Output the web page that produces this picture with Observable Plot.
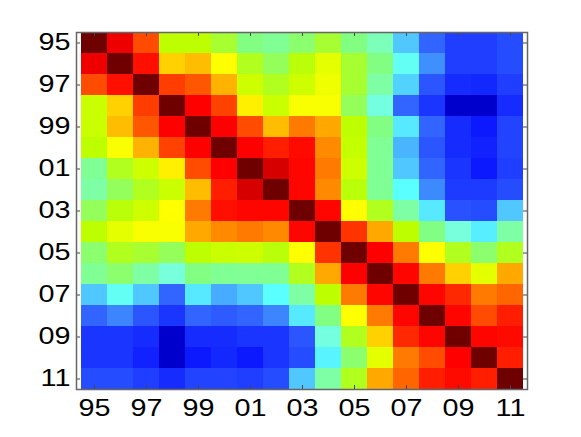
<!DOCTYPE html>
<html><head><meta charset="utf-8">
<script src="https://cdn.jsdelivr.net/npm/d3@7"></script>
<script src="https://cdn.jsdelivr.net/npm/@observablehq/plot@0.6"></script>
<style>body{margin:0;background:#fff}</style>
</head><body><div id="chart"></div>
<script>
const years = ["95","96","97","98","99","00","01","02","03","04","05","06","07","08","09","10","11"];
const tickYears = ["95","97","99","01","03","05","07","09","11"];

const r95 = [1.00, 0.89, 0.80, 0.565, 0.565, 0.54, 0.50, 0.49, 0.51, 0.54, 0.50, 0.47, 0.33, 0.225, 0.185, 0.185, 0.20];
const r96 = [0.89, 1.00, 0.86, 0.67, 0.69, 0.625, 0.55, 0.52, 0.56, 0.60, 0.54, 0.50, 0.40, 0.27, 0.185, 0.185, 0.20];
const r97 = [0.80, 0.86, 1.00, 0.815, 0.79, 0.70, 0.58, 0.55, 0.58, 0.61, 0.54, 0.48, 0.34, 0.21, 0.165, 0.16, 0.185];
const r98 = [0.575, 0.67, 0.815, 1.00, 0.875, 0.81, 0.64, 0.575, 0.62, 0.62, 0.52, 0.44, 0.225, 0.175, 0.075, 0.075, 0.165];
const r99 = [0.575, 0.69, 0.79, 0.875, 1.00, 0.875, 0.80, 0.69, 0.755, 0.71, 0.565, 0.50, 0.36, 0.225, 0.165, 0.145, 0.19];
const r00 = [0.565, 0.62, 0.70, 0.81, 0.875, 1.00, 0.875, 0.845, 0.865, 0.74, 0.57, 0.49, 0.31, 0.21, 0.165, 0.155, 0.19];
const r01 = [0.49, 0.55, 0.58, 0.64, 0.80, 0.875, 1.00, 0.91, 0.87, 0.755, 0.58, 0.49, 0.33, 0.225, 0.175, 0.145, 0.185];
const r02 = [0.48, 0.52, 0.55, 0.575, 0.69, 0.845, 0.91, 1.00, 0.87, 0.74, 0.56, 0.49, 0.38, 0.265, 0.18, 0.18, 0.20];
const r03 = [0.52, 0.56, 0.58, 0.625, 0.755, 0.86, 0.87, 0.87, 1.00, 0.87, 0.625, 0.55, 0.48, 0.36, 0.205, 0.20, 0.33];
const r04 = [0.565, 0.60, 0.62, 0.62, 0.71, 0.74, 0.755, 0.74, 0.87, 1.00, 0.825, 0.71, 0.565, 0.50, 0.45, 0.365, 0.48];
const r05 = [0.51, 0.55, 0.54, 0.52, 0.565, 0.575, 0.58, 0.56, 0.625, 0.825, 1.00, 0.875, 0.755, 0.625, 0.55, 0.51, 0.55];
const r06 = [0.49, 0.51, 0.48, 0.45, 0.50, 0.49, 0.49, 0.49, 0.55, 0.71, 0.875, 1.00, 0.87, 0.755, 0.67, 0.60, 0.71];
const r07 = [0.33, 0.40, 0.33, 0.225, 0.36, 0.30, 0.33, 0.38, 0.48, 0.565, 0.755, 0.87, 1.00, 0.87, 0.835, 0.755, 0.775];
const r08 = [0.225, 0.26, 0.21, 0.175, 0.225, 0.215, 0.225, 0.26, 0.36, 0.50, 0.625, 0.755, 0.87, 1.00, 0.87, 0.80, 0.845];
const r09 = [0.175, 0.175, 0.165, 0.075, 0.165, 0.165, 0.175, 0.175, 0.21, 0.44, 0.55, 0.67, 0.835, 0.87, 1.00, 0.87, 0.865];
const r10 = [0.175, 0.175, 0.155, 0.075, 0.145, 0.16, 0.145, 0.175, 0.20, 0.37, 0.51, 0.60, 0.755, 0.80, 0.875, 1.00, 0.845];
const r11 = [0.20, 0.20, 0.185, 0.165, 0.19, 0.19, 0.185, 0.20, 0.33, 0.48, 0.55, 0.71, 0.775, 0.845, 0.865, 0.845, 1.00];
const matrix = [r95, r96, r97, r98, r99, r00, r01, r02, r03, r04, r05, r06, r07, r08, r09, r10, r11];

// jet-like colormap as rendered in the reference
const cmapStops = [0, 0.075, 0.14, 0.225, 0.33, 0.38, 0.45, 0.5, 0.565, 0.625, 0.875, 1];
const cmapColors = ["rgb(0,0,140)", "rgb(0,0,205)", "rgb(10,20,255)", "rgb(50,100,255)", "rgb(80,200,255)",
  "rgb(90,255,255)", "rgb(120,255,220)", "rgb(130,255,130)", "rgb(190,255,0)", "rgb(255,255,0)",
  "rgb(255,0,0)", "rgb(110,0,0)"];

const cells = [];
years.forEach((ry, i) => years.forEach((cx, j) => cells.push({x: cx, y: ry, v: matrix[i][j]})));

const W = 581, H = 437, ML = 76, MR = 54, MT = 32, MB = 48;
const PW = W - ML - MR, PH = H - MT - MB;
const tickLen = 4, tickColor = "#444";
const font = "'Liberation Sans', Arial, sans-serif";
const glyphStretch = 1.25;

const chart = Plot.plot({
  width: W, height: H,
  marginLeft: ML, marginRight: MR, marginTop: MT, marginBottom: MB,
  style: {fontFamily: font, background: "#fff", overflow: "visible"},
  x: {domain: years, padding: 0, axis: null},
  y: {domain: years, padding: 0, axis: null},
  color: {type: "linear", domain: cmapStops, range: cmapColors, interpolate: "rgb"},
  marks: [
    Plot.cell(cells, {x: "x", y: "y", fill: "v"}),
    Plot.axisX({ticks: tickYears, anchor: "bottom", tickSize: 0, tickPadding: 10, label: null, fontSize: 23, fontFamily: font, fill: "#000"}),
    Plot.axisY({ticks: tickYears, anchor: "left", tickSize: 0, tickPadding: 6, label: null, fontSize: 23, fontFamily: font, fill: "#000"}),
    Plot.tickX(tickYears, {x: d => d, insetTop: PH - tickLen, stroke: tickColor}),
    Plot.tickX(tickYears, {x: d => d, insetBottom: PH - tickLen, stroke: tickColor}),
    Plot.tickY(tickYears, {y: d => d, insetRight: PW - tickLen, stroke: tickColor}),
    Plot.tickY(tickYears, {y: d => d, insetLeft: PW - tickLen, stroke: tickColor}),
    Plot.frame({stroke: "#666", strokeWidth: 1.5})
  ]
});
document.getElementById("chart").appendChild(chart);
// widen the tick-label glyphs like the reference's rendering
chart.querySelectorAll('g[aria-label$="tick label"] text').forEach(t => {
  const len = t.getComputedTextLength();
  if (len > 0) {
    t.setAttribute("textLength", (len * glyphStretch).toFixed(1));
    t.setAttribute("lengthAdjust", "spacingAndGlyphs");
  }
});
</script>
</body></html>
